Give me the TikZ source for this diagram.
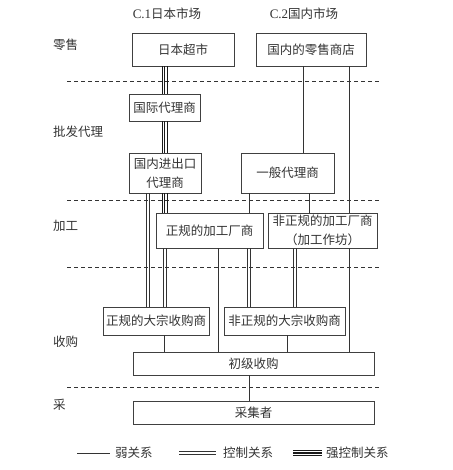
\documentclass[tikz,border=0pt]{standalone}
\usepackage{fontspec}
\setmainfont{Liberation Serif}
\newfontfamily\cjk{Noto Sans CJK SC}
\begin{document}
\begin{tikzpicture}[x=1pt,y=-1pt,
  txt/.style={font=\cjk\fontsize{12.5}{19}\selectfont, text=black!80, inner sep=0pt},
  box/.style={txt, draw=black!75, line width=0.8pt, align=center},
  weak/.style={draw=black!80, line width=0.7pt},
  ctrlline/.style={draw=black!80, line width=0.6pt},
  strongline/.style={draw=black!90, line width=0.8pt},
  sep/.style={draw=black!80, line width=0.8pt, dash pattern=on 4pt off 3pt}]
\useasboundingbox (0,0) rectangle (452,470);
\newcommand\wk[3]{\draw[weak] (#1.south -| #3,0) -- (#2.north -| #3,0);}
\newcommand\ct[3]{\foreach \dd in {-1.3,1.3}{\draw[ctrlline] (#1.south -| {#3+\dd},0) -- (#2.north -| {#3+\dd},0);}}
\newcommand\st[3]{\foreach \dd in {-2.5,0,2.5}{\draw[strongline] (#1.south -| {#3+\dd},0) -- (#2.north -| {#3+\dd},0);}}

% headers
\node[txt] (h1) at (167,14) {{\rmfamily\fontsize{13}{13}\selectfont C.1}日本市场};
\node[txt] (h2) at (304,14) {{\rmfamily\fontsize{13}{13}\selectfont C.2}国内市场};

% layer labels
\node[txt, anchor=west] (l1) at (53,45) {零售};
\node[txt, anchor=west] (l2) at (53,132) {批发代理};
\node[txt, anchor=west] (l3) at (53,226) {加工};
\node[txt, anchor=west] (l4) at (53,342) {收购};
\node[txt, anchor=west] (l5) at (53,405) {采};

% separators
\foreach \yy in {81,200,267,387} \draw[sep] (67,\yy) -- (380,\yy);

% boxes
\node[box, minimum width=102pt, minimum height=33pt] (jp) at (183,49.5) {日本超市};
\node[box, minimum width=110pt, minimum height=33pt] (dom) at (311,49.5) {国内的零售商店};
\node[box, minimum width=71pt, minimum height=27pt] (intl) at (164.5,107.5) {国际代理商};
\node[box, minimum width=72pt, minimum height=40pt] (imp) at (165,173) {国内进出口\\代理商};
\node[box, minimum width=93pt, minimum height=40pt] (gen) at (287.5,173) {一般代理商};
\node[box, minimum width=107pt, minimum height=35pt] (proc) at (209.5,230.5) {正规的加工厂商};
\node[box, minimum width=109pt, minimum height=35pt] (nproc) at (322.5,230.5) {非正规的加工厂商\\（加工作坊）};
\node[box, minimum width=106pt, minimum height=28pt] (bulk) at (156,321) {正规的大宗收购商};
\node[box, minimum width=121pt, minimum height=28pt] (nbulk) at (284.5,321) {非正规的大宗收购商};
\node[box, minimum width=241pt, minimum height=23pt] (prim) at (253.5,363.5) {初级收购};
\node[box, minimum width=241pt, minimum height=23pt] (coll) at (253.5,412.5) {采集者};

% connectors
\st{jp}{intl}{164.5}
\st{intl}{imp}{164.5}
\st{imp}{proc}{164.5}
\ct{imp}{bulk}{148}
\ct{proc}{bulk}{164.5}
\wk{proc}{prim}{218}
\ct{proc}{nbulk}{249}
\wk{dom}{gen}{303}
\wk{gen}{proc}{249}
\wk{gen}{nproc}{309.5}
\wk{dom}{nproc}{349}
\wk{nproc}{prim}{349}
\ct{nproc}{nbulk}{295}
\wk{bulk}{prim}{164}
\wk{nbulk}{prim}{287}
\wk{prim}{coll}{249}

% legend
\coordinate (a1) at (77,453); \coordinate (a2) at (110,453);
\coordinate (b1) at (179,453); \coordinate (b2) at (216,453);
\coordinate (c1) at (293,453); \coordinate (c2) at (322,453);
\draw[weak] (a1) -- (a2);
\foreach \dd in {-1.3,1.3} \draw[ctrlline] ([yshift=\dd pt]b1) -- ([yshift=\dd pt]b2);
\foreach \dd in {-2.5,0,2.5} \draw[strongline, line width=1.1pt] ([yshift=\dd pt]c1) -- ([yshift=\dd pt]c2);
\node[txt, anchor=west] (la) at (115,453) {弱关系};
\node[txt, anchor=west] (lb) at (223,453) {控制关系};
\node[txt, anchor=west] (lc) at (326,453) {强控制关系};
\end{tikzpicture}
\end{document}
